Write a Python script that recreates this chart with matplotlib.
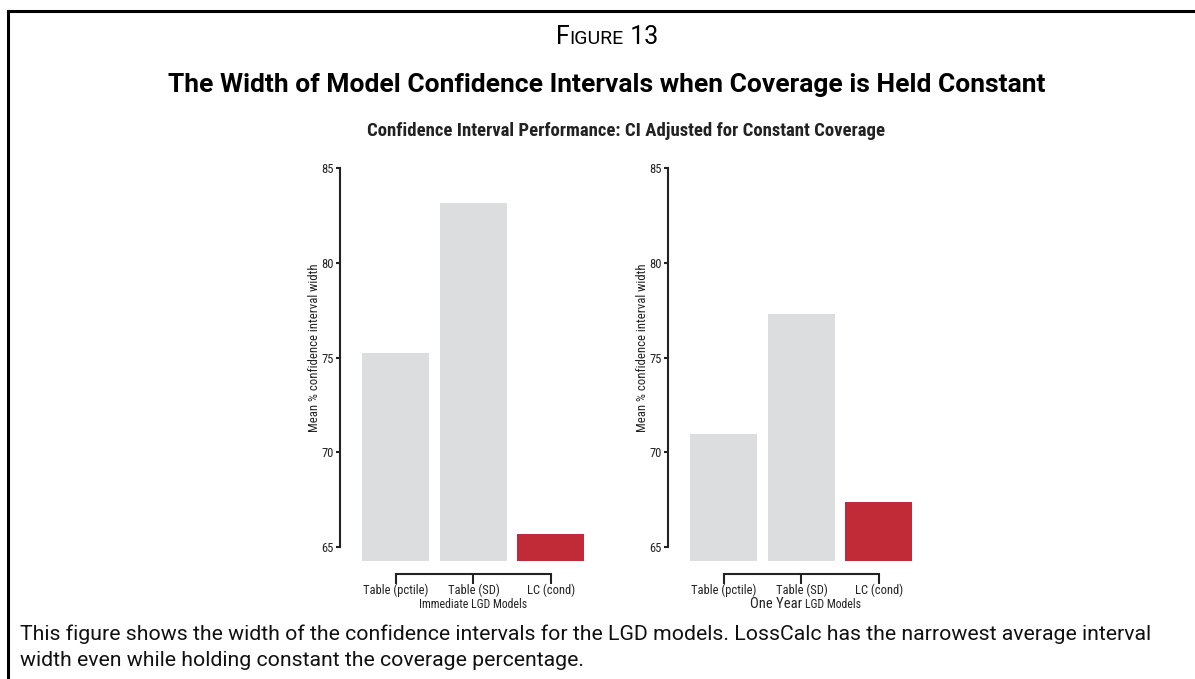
import matplotlib
matplotlib.use("Agg")
import matplotlib.pyplot as plt
from matplotlib import font_manager
from matplotlib.lines import Line2D
from matplotlib.offsetbox import TextArea, HPacker, AnchoredOffsetbox

# Data
models = ["Table (pctile)", "Table (SD)", "LC (cond)"]
immediate_width = [75.25, 83.15, 65.7]
one_year_width = [70.95, 77.3, 67.4]
bar_colors = ["#dcdddf", "#dcdddf", "#c12b37"]
y_ticks = [65, 70, 75, 80, 85]

W, H = 1195, 679
DIN = ["Roboto", "DejaVu Sans"]


def narrow_font():
    """Find a condensed sans face for the chart text, else plain Liberation Sans."""
    fonts = font_manager.fontManager.ttflist
    for fam in ["Roboto Condensed", "Liberation Sans Narrow", "Arial Narrow"]:
        if any(f.name == fam for f in fonts):
            return dict(family=fam), 1.0
    for f in fonts:
        if "ondensed" in str(f.stretch) and f.name in ("Noto Sans", "DejaVu Sans",
                                                       "Open Sans", "Roboto"):
            return dict(family=f.name, stretch="condensed"), 1.0
    return dict(family="Liberation Sans"), 0.85


NARROW, SCALE = narrow_font()

fig = plt.figure(figsize=(W / 100, H / 100), dpi=100)
fig.patch.set_facecolor("white")


def px(x, y):
    """Convert pixel coordinates (from top-left) into figure fractions."""
    return x / W, 1 - y / H


def draw_panel(left_px, values):
    x0, y0 = px(left_px, 561)
    ax = fig.add_axes([x0, y0, 266 / W, (561 - 154) / H])
    ax.bar(range(len(models)), values, width=0.865, bottom=0,
           color=bar_colors, zorder=2)
    ax.set_xlim(-0.72, 2.71)
    ax.set_ylim(64.26, 85.74)

    for side in ["top", "right"]:
        ax.spines[side].set_visible(False)
    ax.spines["left"].set_bounds(65, 85)
    ax.spines["bottom"].set_bounds(0, 2)
    ax.spines["bottom"].set_position(("outward", 9))
    for side in ["left", "bottom"]:
        ax.spines[side].set_linewidth(1.5)
        ax.spines[side].set_color("#222222")

    ax.set_yticks(y_ticks)
    ax.set_xticks(range(len(models)))
    ax.set_xticklabels(models, fontsize=9 * SCALE, color="#222222", **NARROW)
    ax.set_yticklabels(y_ticks, fontsize=9 * SCALE, color="#222222", **NARROW)
    ax.tick_params(axis="y", length=3, width=1.5, pad=1.5, color="#222222")
    ax.tick_params(axis="x", length=7, width=1.5, pad=0.5, color="#222222")

    ax.set_ylabel("Mean % confidence interval width", fontsize=9.2 * SCALE,
                  color="#222222", **NARROW)
    ax.yaxis.set_label_coords(-0.07, 0.523)
    return ax


ax1 = draw_panel(340, immediate_width)
ax2 = draw_panel(668, one_year_width)

# x axis titles
fig.text(*px(473, 605), "Immediate LGD Models", fontsize=8.5 * SCALE,
         color="#222222", ha="center", va="center", **NARROW)
fig.text(*px(805, 604), "One Year ", fontsize=10.5 * SCALE,
         color="#222222", ha="right", va="center", **NARROW)
fig.text(*px(805, 605), "LGD Models", fontsize=8.5 * SCALE,
         color="#222222", ha="left", va="center", **NARROW)

# Subtitle over the plot area
fig.text(*px(626, 131), "Confidence Interval Performance: CI Adjusted for Constant Coverage",
         fontsize=13.5 * SCALE, fontweight="bold", color="#222222",
         ha="center", va="center", **NARROW)

# Main title
fig.text(*px(607, 85), "The Width of Model Confidence Intervals when Coverage is Held Constant",
         family=DIN, fontsize=19, fontweight="bold", color="black",
         ha="center", va="center")

# "FIGURE 13" in small caps
parts = [TextArea("F", textprops=dict(family=DIN, fontsize=18)),
         TextArea("IGURE", textprops=dict(family=DIN, fontsize=14)),
         TextArea(" 13", textprops=dict(family=DIN, fontsize=18))]
caps = HPacker(children=parts, align="baseline", pad=0, sep=0)
fig.add_artist(AnchoredOffsetbox(loc="center", child=caps, frameon=False,
                                 bbox_to_anchor=px(607, 37),
                                 bbox_transform=fig.transFigure, pad=0,
                                 borderpad=0))

# Caption
fig.text(*px(20, 634), "This figure shows the width of the confidence intervals for the LGD models. "
         "LossCalc has the narrowest average interval", family=DIN, fontsize=15.3,
         color="#111111", ha="left", va="center")
fig.text(*px(20, 661), "width even while holding constant the coverage percentage.",
         family=DIN, fontsize=15.3, color="#111111", ha="left", va="center")

# Frame lines on the top and left edges
fig.add_artist(Line2D([8 / W, 1], [1 - 11 / H, 1 - 11 / H],
                      transform=fig.transFigure, color="black", linewidth=2.2))
fig.add_artist(Line2D([8 / W, 8 / W], [0, 1 - 11 / H],
                      transform=fig.transFigure, color="black", linewidth=2.2))

fig.savefig("out.png", dpi=100)
